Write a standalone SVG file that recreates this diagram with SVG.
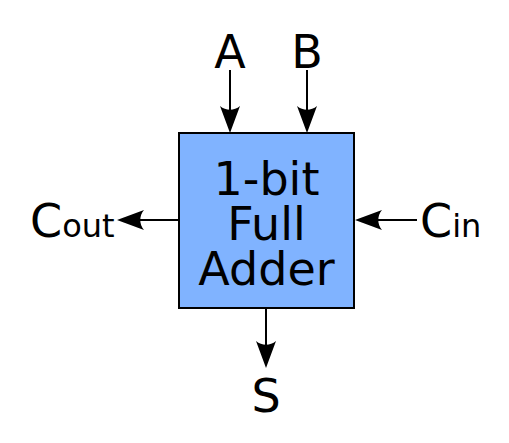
<svg xmlns="http://www.w3.org/2000/svg" width="509" height="443" viewBox="0 0 509 443">
<style>
text{font-family:"DejaVu Sans",sans-serif;fill:#000}
.big{font-size:46px}
.sub{font-size:32px}
.wire{stroke:#000;stroke-width:2;fill:none;marker-end:url(#ah)}
</style>
<defs>
<marker id="ah" markerUnits="userSpaceOnUse" markerWidth="40" markerHeight="30" viewBox="-15 -15 40 30" refX="0" refY="0" orient="auto" overflow="visible">
<path d="M15,0 L-12,-10 C-7,-4 -7,4 -12,10 Z" fill="#000"/>
</marker>
</defs>
<rect width="509" height="443" fill="#fff"/>
<g id="connectors">
<path class="wire" d="M230,70 V118"/>
<path class="wire" d="M307,70 V118"/>
<path class="wire" d="M179,220 H132"/>
<path class="wire" d="M417,220 H370"/>
<path class="wire" d="M266,308 V353"/>
</g>
<g id="adder">
<rect x="179" y="133" width="175" height="175" fill="#80b3ff" stroke="#000" stroke-width="2"/>
<text class="big" x="266.5" y="195" text-anchor="middle">1-bit</text>
<text class="big" x="266.5" y="240" text-anchor="middle">Full</text>
<text class="big" x="266.5" y="285" text-anchor="middle">Adder</text>
</g>
<g id="A"><text class="big" x="230" y="68" text-anchor="middle">A</text></g>
<g id="B"><text class="big" x="307" y="68" text-anchor="middle">B</text></g>
<g id="Cout"><text x="30" y="237"><tspan class="big">C</tspan><tspan class="sub">out</tspan></text></g>
<g id="Cin"><text x="420" y="237"><tspan class="big">C</tspan><tspan class="sub">in</tspan></text></g>
<g id="S"><text class="big" x="266" y="412" text-anchor="middle">S</text></g>
</svg>
